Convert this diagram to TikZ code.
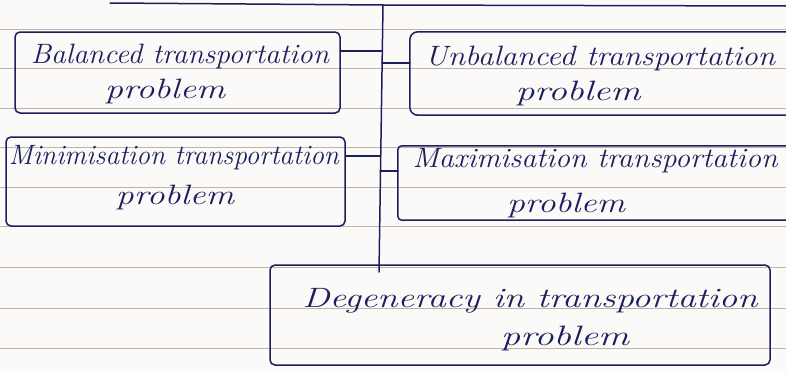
\documentclass[tikz,border=0pt]{standalone}
\usetikzlibrary{calc}
\definecolor{ink}{HTML}{1B1F5E}
\definecolor{rule}{HTML}{BDB6A6}
\definecolor{paper}{HTML}{FBFAF8}
\newcommand\hwline[2]{\resizebox{#1}{\height}{#2}}
\tikzset{
  ink/.style={draw=ink, line width=1.5pt, line cap=round, line join=round},
  ruled/.style={draw=rule, line width=0.9pt},
  boxshape/.style={ink, rounded corners=5pt, inner sep=0pt},
  openshape/.style={inner sep=0pt},
  hw/.style={inner sep=0pt, text=ink, font=\fontsize{28}{30}\selectfont\itshape},
}
\begin{document}
\begin{tikzpicture}[x=1pt,y=-1pt]
\useasboundingbox (0,0) rectangle (786,372);
\fill[paper] (0,0) rectangle (786,372);
% ruled notebook lines
\foreach \yy in {29,68,108,147,187,226,267,308,348}
  \draw[ruled] (0,\yy) -- (786,\yy);

% spine
\coordinate (topL) at (110,3);
\coordinate (spineTop) at (383,5);
\coordinate (topR) at (786,6);
\coordinate (spineEnd) at (379,272);
\draw[ink] (topL) -- (spineTop) -- (topR);
\draw[ink] (spineTop) -- (spineEnd);

% boxes
\node[boxshape, minimum width=325pt, minimum height=81pt] (b1) at (177.5,72.5) {};
\node[boxshape, minimum width=339pt, minimum height=89pt] (b3) at (175.5,181.5) {};
\node[boxshape, minimum width=500pt, minimum height=100pt] (b5) at (520,315) {};
\node[openshape, minimum width=376pt, minimum height=83pt] (b2) at (598,73.5) {};
\node[openshape, minimum width=388pt, minimum height=74pt] (b4) at (592,183) {};
\draw[ink, rounded corners=8pt] (b2.north east) -- (b2.north west) -- (b2.south west) -- (b2.south east);
\draw[ink, rounded corners=4pt] (b4.north east) -- (b4.north west) -- (b4.south west) -- (b4.south east);

% texts
\node[hw] (t1a) at (180,56) {\hwline{298pt}{Balanced transportation}};
\node[hw] (t1b) at (165,91) {\hwline{120pt}{problem}};
\node[hw] (t2a) at (600,58) {\hwline{350pt}{Unbalanced transportation}};
\node[hw] (t2b) at (578,93) {\hwline{125pt}{problem}};
\node[hw] (t3a) at (174,158) {\hwline{330pt}{Minimisation transportation}};
\node[hw] (t3b) at (175,197) {\hwline{118pt}{problem}};
\node[hw] (t4a) at (595,161) {\hwline{365pt}{Maximisation transportation}};
\node[hw] (t4b) at (566,205) {\hwline{118pt}{problem}};
\node[hw] (t5a) at (530,301) {\hwline{455pt}{Degeneracy in transportation}};
\node[hw] (t5b) at (565,338) {\hwline{128pt}{problem}};

% connectors
\coordinate (c1) at (382,51);
\coordinate (c2) at (382,63);
\coordinate (c3) at (380,156);
\coordinate (c4) at (380,171);
\draw[ink] (b1.east |- c1) -- (c1);
\draw[ink] (c2) -- (b2.west |- c2);
\draw[ink] (b3.east |- c3) -- (c3);
\draw[ink] (c4) -- (b4.west |- c4);
\end{tikzpicture}
\end{document}
